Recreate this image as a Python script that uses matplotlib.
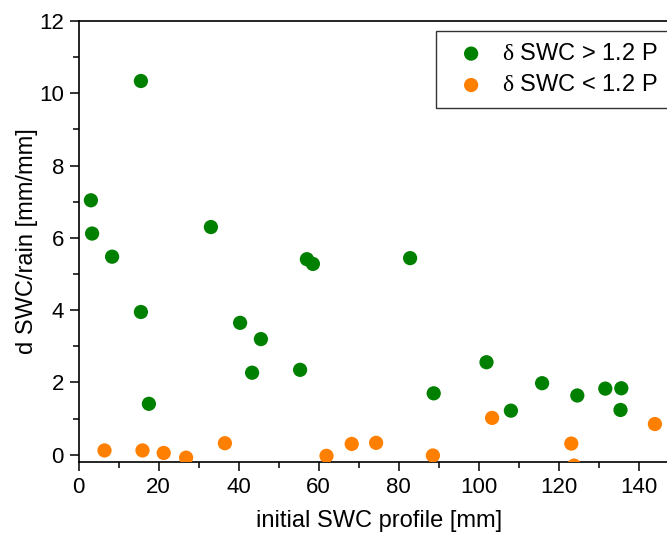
import matplotlib
matplotlib.use("Agg")
import matplotlib.pyplot as plt
from matplotlib.ticker import MultipleLocator

plt.rcParams["font.family"] = ["Liberation Sans", "DejaVu Sans"]
plt.rcParams["mathtext.fontset"] = "custom"
plt.rcParams["mathtext.rm"] = "Liberation Serif"

# green: delta SWC > 1.2 P
high_x = [3.1, 3.4, 8.4, 15.6, 15.6, 17.6, 33.1, 40.4, 43.4, 45.6, 55.4, 57.1, 58.6,
          82.9, 88.8, 102.0, 108.1, 115.9, 124.7, 131.7, 135.7, 135.5]
high_y = [7.04, 6.12, 5.48, 10.34, 3.95, 1.41, 6.30, 3.65, 2.27, 3.20, 2.35, 5.41, 5.28,
          5.44, 1.70, 2.56, 1.22, 1.98, 1.64, 1.83, 1.84, 1.24]

# orange: delta SWC < 1.2 P
low_x = [6.5, 16.0, 21.3, 26.9, 36.6, 62.0, 68.3, 74.4, 88.6, 103.4, 123.2, 123.9, 144.1]
low_y = [0.12, 0.12, 0.05, -0.08, 0.32, -0.03, 0.30, 0.33, -0.02, 1.02, 0.31, -0.30, 0.85]

labels = [r"$\mathrm{\delta}$ SWC > 1.2 P", r"$\mathrm{\delta}$ SWC < 1.2 P"]

W, H = 667, 536
fig = plt.figure(figsize=(W / 100, H / 100), dpi=100)
left, right, top, bottom = 78.5, 680, 21, 462
ax = fig.add_axes([left / W, 1 - bottom / H, (right - left) / W, (bottom - top) / H])

ax.scatter(high_x, high_y, s=105, color="#008000", edgecolors="none", label=labels[0], zorder=3)
ax.scatter(low_x, low_y, s=105, color="#ff8000", edgecolors="none", label=labels[1], zorder=3)

ax.set_xlim(0, (right - left) / 4.0)
ax.set_ylim(-0.2, 12)
ax.xaxis.set_major_locator(MultipleLocator(20))
ax.xaxis.set_minor_locator(MultipleLocator(10))
ax.yaxis.set_major_locator(MultipleLocator(2))
ax.yaxis.set_minor_locator(MultipleLocator(1))
ax.tick_params(which="major", direction="out", length=6.5, width=1.1, labelsize=16, pad=4)
ax.tick_params(which="minor", direction="out", length=4, width=1.1)
for sp in ax.spines.values():
    sp.set_linewidth(1.2)

ax.set_xlabel("initial SWC profile [mm]", fontsize=17, labelpad=9)
ax.set_ylabel("d SWC/rain [mm/mm]", fontsize=17, labelpad=1)

leg = fig.legend(loc="upper left", bbox_to_anchor=(435.7 / W, 1 - 31 / H),
                 fontsize=17, frameon=True, fancybox=False, handletextpad=0.3,
                 borderpad=0.5, borderaxespad=0, labelspacing=0.4, markerscale=1.0)
leg.get_frame().set_edgecolor("black")
leg.get_frame().set_linewidth(1.0)

fig.savefig("out.png", dpi=100)
